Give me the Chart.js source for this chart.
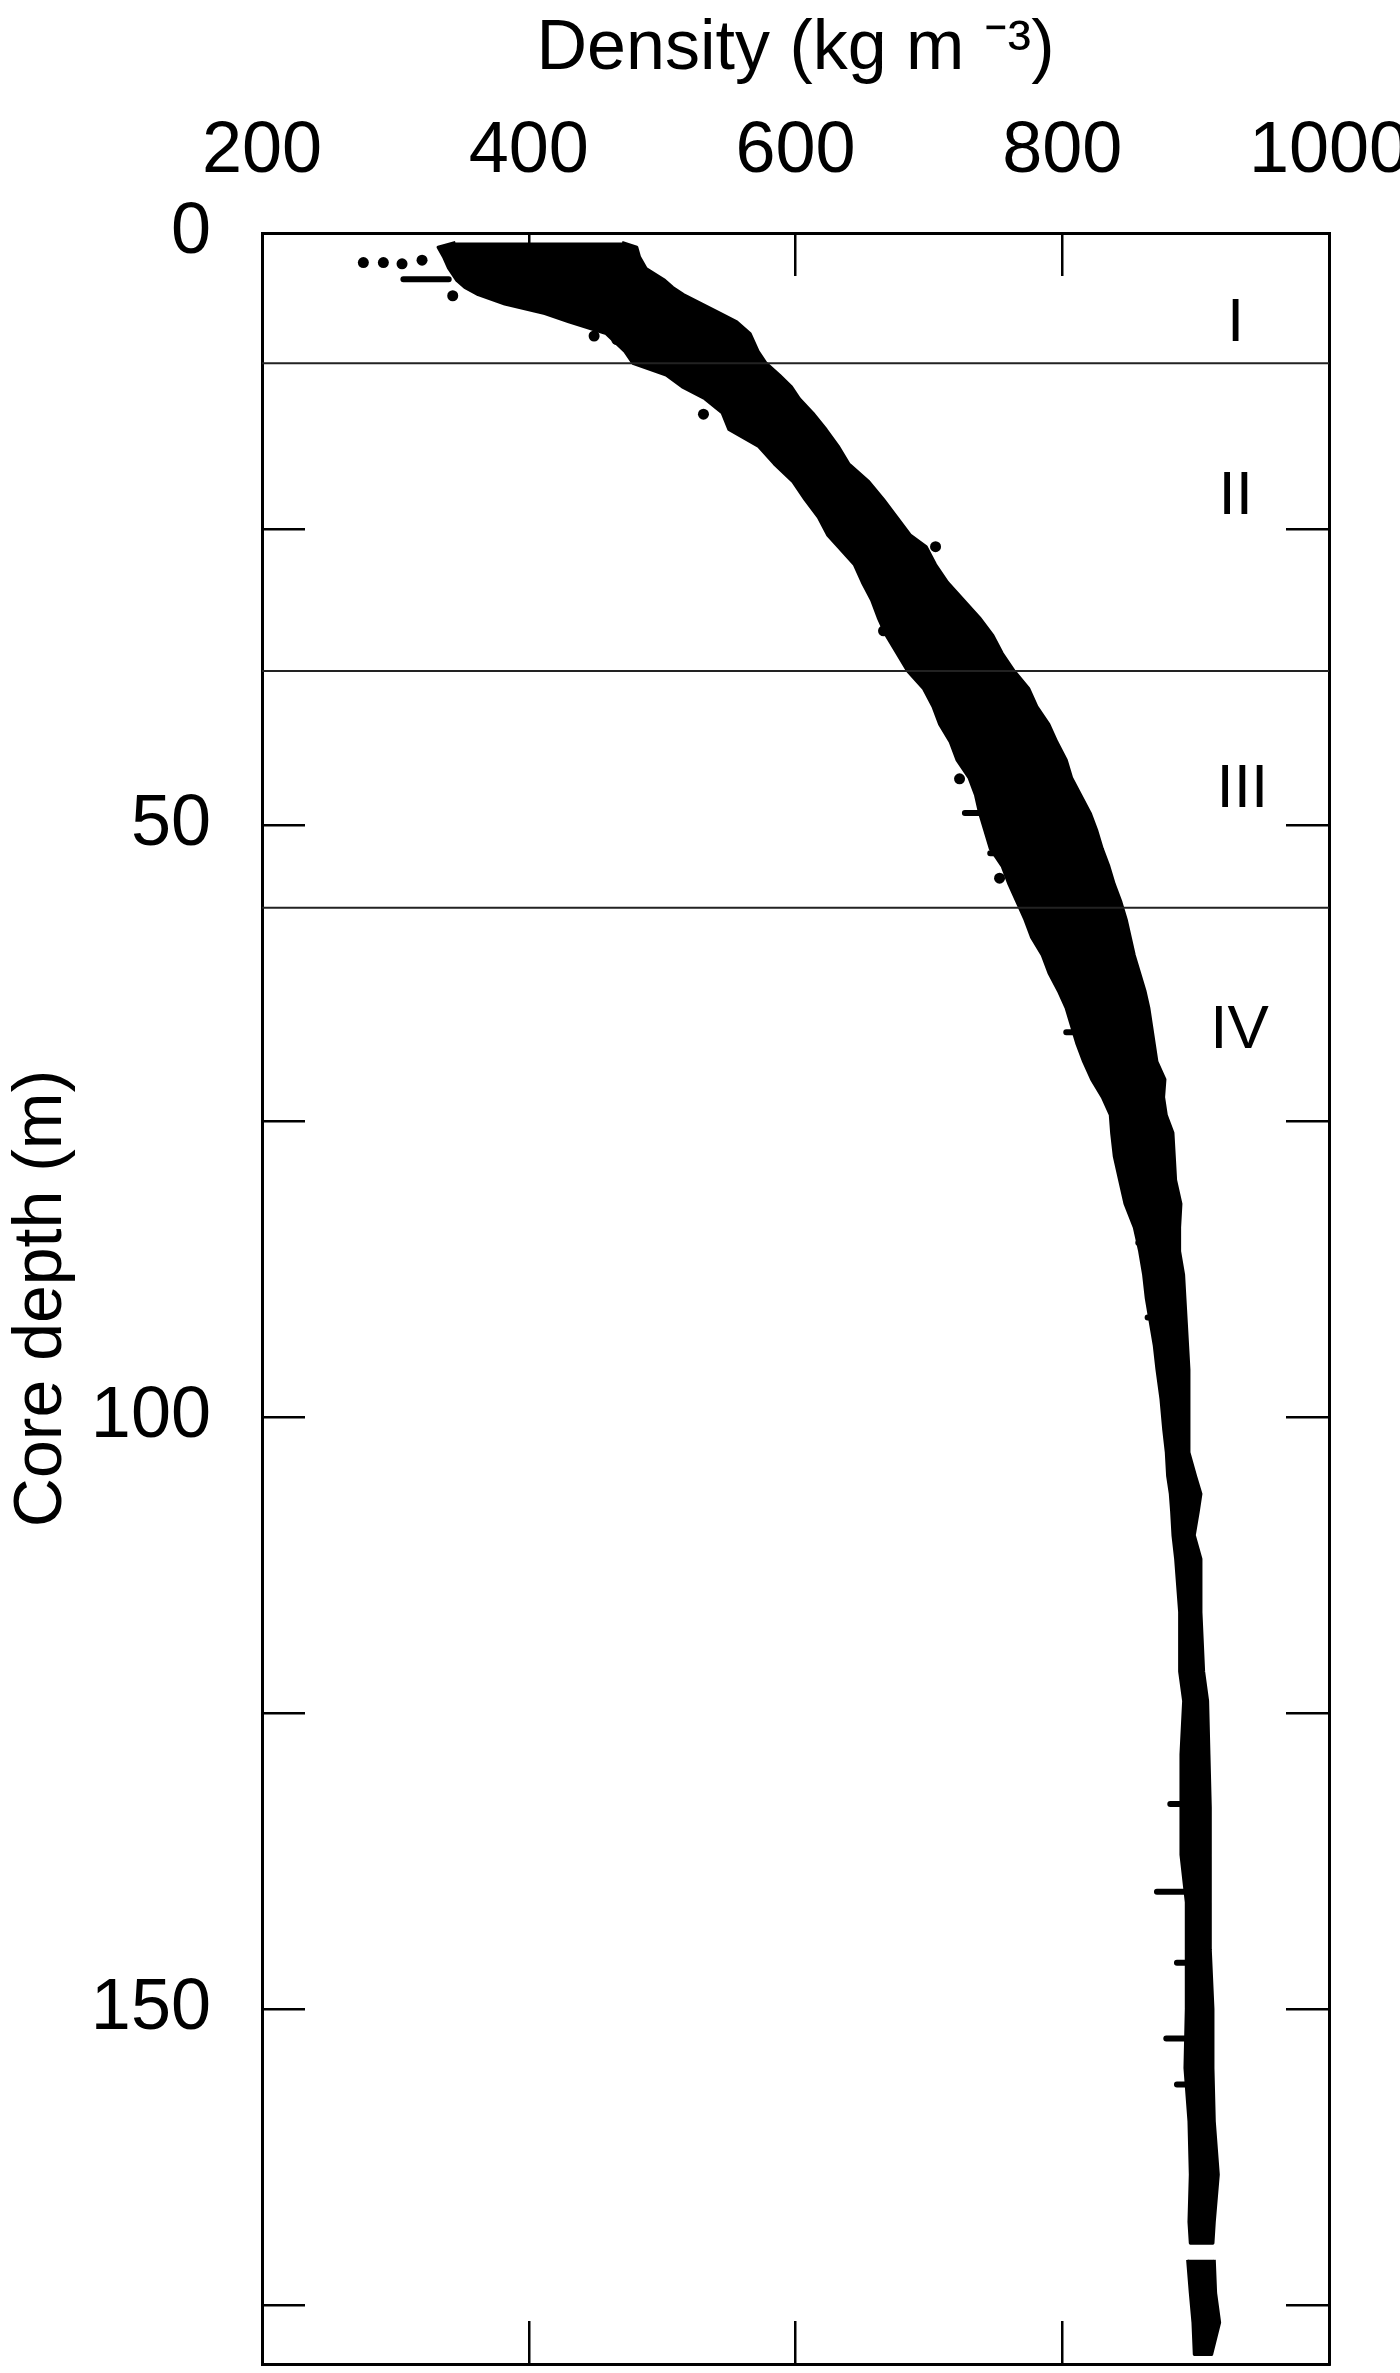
<!DOCTYPE html>
<html>
<head>
<meta charset="utf-8">
<title>Density vs core depth</title>
<script src="https://cdn.jsdelivr.net/npm/chart.js@4.4.1/dist/chart.umd.min.js"></script>
<style>
  html, body { margin: 0; padding: 0; background: #fff; }
  canvas { display: block; }
</style>
</head>
<body>
<canvas id="chart" width="1400" height="2373"></canvas>
<script>
"use strict";

// Edges of the measured density cloud, read off the figure
// (depth in m, density in kg m-3). The cloud is drawn as one filled band.
const bandDepth = [0.8, 1.2, 2.0, 3.0, 4.0, 4.6, 5.2, 6.0, 6.8, 7.5, 8.5, 10.0, 11.0, 12.0, 13.0, 14.0,
  15.2, 16.6, 18.0, 19.5, 21.0, 22.5, 24.0, 25.5, 26.5, 28.0, 29.5, 31.0, 32.5, 34.0, 35.5, 37.0,
  38.5, 40.0, 41.5, 43.0, 44.5, 46.0, 47.5, 49.0, 50.5, 52.0, 53.5, 55.0, 56.5, 58.0, 59.5, 61.0,
  62.5, 64.0, 65.5, 67.0, 68.5, 70.0, 71.5, 73.0, 74.5, 76.0, 78.0, 80.0, 82.0, 84.0, 86.0, 88.0,
  90.0, 92.0, 94.0, 96.0, 98.5, 101.0, 103.0, 105.0, 106.5, 108.0, 110.0, 112.0, 116.5, 121.5, 124.0,
  128.5, 133.0, 137.0, 141.0, 145.0, 150.0, 155.0, 159.5, 164.0, 168.0, 169.8];
const bandLeft = [345, 332, 336, 340, 346, 352, 362, 382, 412, 430, 458, 472, 478, 503, 515, 532,
  545, 550, 572, 584, 598, 607, 617, 624, 632, 644, 650, 657, 662, 668, 676, 684,
  696, 703, 708, 716, 721, 730, 735, 738, 742, 746, 755, 760, 766, 772, 777, 785,
  790, 797, 803, 807, 811, 816, 822, 830, 836, 837, 839, 843, 847, 854, 858, 861,
  863, 866, 869, 871, 874, 876, 878, 879, 881, 882, 883, 885, 888, 888, 891,
  889, 889, 889, 893, 893, 893, 892, 895, 896, 895, 896];
const bandRight = [470, 481, 483, 488, 502, 508, 516, 530, 544, 556, 566, 572, 578, 588, 597, 603,
  613, 623, 632, 640, 655, 666, 676, 686, 698, 705, 714, 726, 738, 748, 755, 764,
  775, 781, 790, 796, 803, 807, 814, 821, 826, 830, 835, 839, 844, 848, 851, 854,
  858, 862, 865, 867, 869, 871, 877, 876, 878, 883, 884, 885, 889, 888, 888, 891,
  892, 893, 894, 895, 895, 895, 895, 900, 904, 902, 899, 904, 904, 906, 909,
  910, 911, 911, 911, 911, 913, 913, 914, 917, 914, 913];

// short piece of core below the gap near 170 m
const tailDepth = [171.2, 174.0, 176.5, 179.2];
const tailLeft = [894, 896, 898, 899];
const tailRight = [914, 915, 918, 912];

// outlying horizontal runs of samples
const streakDepth = [3.9, 49.0, 52.4, 67.5, 80.4, 82.0, 85.3, 91.6, 132.7, 140.1, 146.1, 152.5, 156.4];
const streakFrom = [306, 727, 746, 803, 848, 850, 857, 864, 881, 871, 886, 878, 886];
const streakTo = [340, 745, 770, 835, 868, 866, 868, 876, 895, 894, 899, 897, 899];

// single outlying samples
const dotDepth = [2.5, 2.5, 2.6, 2.3, 5.3, 4.8, 8.7, 9.0, 15.3, 26.5, 33.6, 46.1, 54.5, 64.9];
const dotDensity = [276, 291, 305, 320, 343, 372, 449, 466, 531, 705, 666, 723, 753, 806];

// zone boundaries and zone names
const zoneBounds = [11, 37, 57];
const zoneNames = ['I', 'II', 'III', 'IV'];
const zoneNameDepth = [7.7, 22.3, 47.0, 67.4];
const zoneNameDensity = [930, 930, 935, 933];

const densityTicks = [200, 400, 600, 800, 1000];
const depthTicks = [0, 25, 50, 75, 100, 125, 150, 175];
const depthLabels = [0, 50, 100, 150];

const FONT = "'Liberation Sans', Arial, Helvetica, sans-serif";
const INK = '#000';

function polygon(depth, left, right) {
  const down = depth.map((d, i) => ({x: left[i], y: d}));
  const up = depth.map((d, i) => ({x: right[i], y: d})).reverse();
  return down.concat(up);
}

const zoneLines = zoneBounds.map(d => ({
  data: [{x: densityTicks[0], y: d}, {x: densityTicks[densityTicks.length - 1], y: d}],
  showLine: true, borderColor: '#222', borderWidth: 2, pointRadius: 0, fill: false,
}));

const band = (pts) => ({
  data: pts, showLine: true, fill: 'shape', backgroundColor: INK, borderColor: INK,
  borderWidth: 3, borderJoinStyle: 'round', pointRadius: 0,
});

const streaks = {
  data: streakDepth.flatMap((d, i) => [{x: streakFrom[i], y: d}, {x: streakTo[i], y: d}, {x: null, y: null}]),
  showLine: true, spanGaps: false, borderColor: INK, borderWidth: 6, borderCapStyle: 'round',
  pointRadius: 0, fill: false,
};

const dots = {
  data: dotDepth.map((d, i) => ({x: dotDensity[i], y: d})),
  backgroundColor: INK, borderColor: INK, pointRadius: 5.5, pointBorderWidth: 0,
};

// roman numerals naming the zones
const zoneText = {
  id: 'zoneText',
  afterDatasetsDraw(chart) {
    const {ctx, scales: {x, y}} = chart;
    ctx.save();
    ctx.font = '62px ' + FONT;
    ctx.fillStyle = INK;
    ctx.textAlign = 'center';
    ctx.textBaseline = 'middle';
    zoneNames.forEach((t, i) =>
      ctx.fillText(t, x.getPixelForValue(zoneNameDensity[i]), y.getPixelForValue(zoneNameDepth[i])));
    ctx.restore();
  }
};

const inwardGrid = {drawOnChartArea: false, drawTicks: true, tickLength: -43, color: INK, lineWidth: 2.5};
const frame = {display: true, color: INK, width: 3};
const tickFont = {family: FONT, size: 72};

new Chart(document.getElementById('chart'), {
  type: 'scatter',
  data: {datasets: [...zoneLines, band(polygon(bandDepth, bandLeft, bandRight)),
    band(polygon(tailDepth, tailLeft, tailRight)), streaks, dots]},
  options: {
    responsive: false, animation: false, devicePixelRatio: 1,
    layout: {padding: 0},
    plugins: {legend: {display: false}, tooltip: {enabled: false}},
    scales: {
      x: {
        type: 'linear', position: 'top', min: 200, max: 1000,
        afterBuildTicks: s => { s.ticks = densityTicks.map(v => ({value: v})); },
        ticks: {font: tickFont, color: INK, padding: 81, maxRotation: 0, autoSkip: false,
          callback: v => String(v)},
        grid: inwardGrid, border: frame,
        title: {display: true, text: 'Density (kg m \u207B\u00B3)', color: INK,
          font: {family: FONT, size: 70}, padding: {top: 8, bottom: 0}},
        afterFit: s => { s.height = 233; s.paddingLeft = 0; s.paddingRight = 0; },
      },
      x2: {
        type: 'linear', position: 'bottom', min: 200, max: 1000,
        afterBuildTicks: s => { s.ticks = densityTicks.map(v => ({value: v})); },
        ticks: {display: false}, grid: inwardGrid, border: frame,
        afterFit: s => { s.height = 9; s.paddingLeft = 0; s.paddingRight = 0; },
      },
      y: {
        type: 'linear', position: 'left', reverse: true, min: 0, max: 180,
        afterBuildTicks: s => { s.ticks = depthTicks.map(v => ({value: v})); },
        ticks: {font: tickFont, color: INK, padding: 94, autoSkip: false,
          callback: v => depthLabels.includes(v) ? String(v) : ''},
        grid: inwardGrid, border: frame,
        title: {display: true, text: 'Core depth (m)', color: INK,
          font: {family: FONT, size: 68}, padding: {top: 1, bottom: 0}},
        afterFit: s => { s.width = 262; s.paddingTop = 0; s.paddingBottom = 0; },
      },
      y2: {
        type: 'linear', position: 'right', reverse: true, min: 0, max: 180,
        afterBuildTicks: s => { s.ticks = depthTicks.map(v => ({value: v})); },
        ticks: {display: false}, grid: inwardGrid, border: frame,
        afterFit: s => { s.width = 71; s.paddingTop = 0; s.paddingBottom = 0; },
      },
    },
  },
  plugins: [zoneText],
});
</script>
</body>
</html>
